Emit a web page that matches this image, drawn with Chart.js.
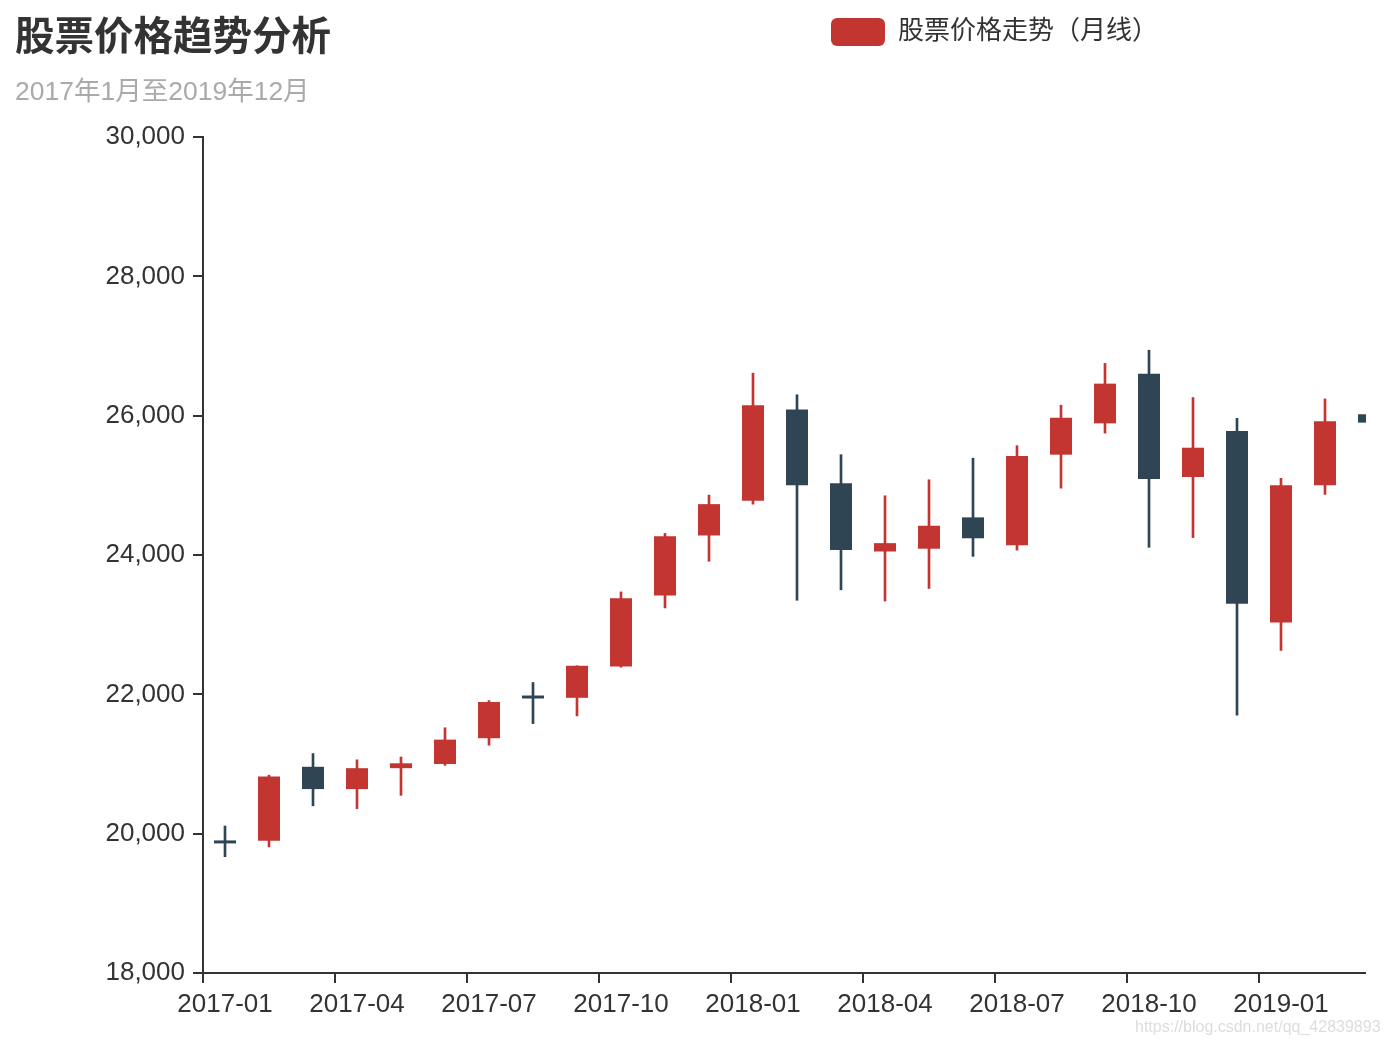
<!DOCTYPE html>
<html>
<head>
<meta charset="utf-8">
<script src="https://cdn.jsdelivr.net/npm/chart.js@4.4.1/dist/chart.umd.min.js"></script>
<style>
    body { margin: 0; background: #fff; font-family: 'Liberation Sans', 'Noto Sans CJK SC', sans-serif; }
    .title { position: absolute; left: 15px; top: 16px; font-size: 39.5px; line-height: 40px; font-weight: bold; color: #333; }
    .subtitle { position: absolute; left: 15px; top: 78px; font-size: 26.5px; line-height: 26px; color: #aaa; }
    .wrap { position: absolute; left: 0; top: 0; width: 1366px; height: 1046px; overflow: hidden; }
    .mark { position: absolute; left: 1135px; top: 1018px; font-size: 16px; color: #ddd; }
</style>
</head>
<body>
<div class="wrap"><canvas id="klineChart" width="1976" height="1046"></canvas></div>
<div class="title">股票价格趋势分析</div>
<div class="subtitle">2017年1月至2019年12月</div>
<div class="mark">https://blog.csdn.net/qq_42839893</div>
<script>
// Datos del gráfico (meses y precios OHLC)
const months = [
    '2017-01', '2017-02', '2017-03', '2017-04', '2017-05', '2017-06',
    '2017-07', '2017-08', '2017-09', '2017-10', '2017-11', '2017-12',
    '2018-01', '2018-02', '2018-03', '2018-04', '2018-05', '2018-06',
    '2018-07', '2018-08', '2018-09', '2018-10', '2018-11', '2018-12',
    '2019-01', '2019-02', '2019-03', '2019-04', '2019-05', '2019-06',
    '2019-07', '2019-08', '2019-09', '2019-10', '2019-11', '2019-12'
];
const openPrices = [19870, 19900, 20960, 20640, 20940, 21000, 21370, 21950, 21950, 22400, 23420, 24280,
    24780, 26090, 25030, 24050, 24090, 24540, 24140, 25440, 25890, 26600, 25120, 25780,
    23030, 25000, 26020];
const closePrices = [19860, 20820, 20640, 20940, 21010, 21350, 21890, 21940, 22410, 23380, 24270, 24730,
    26150, 25000, 24070, 24170, 24420, 24240, 25420, 25970, 26460, 25090, 25540, 23300,
    25000, 25920, 25900];
const lowPrices = [19670, 19810, 20400, 20360, 20550, 20980, 21270, 21580, 21690, 22390, 23240, 23910,
    24730, 23350, 23500, 23340, 23520, 23980, 24070, 24960, 25750, 24110, 24250, 21700,
    22630, 24870, 25200];
const highPrices = [20110, 20840, 21150, 21060, 21100, 21520, 21910, 22170, 22410, 23470, 24310, 24860,
    26610, 26300, 25440, 24850, 25080, 25390, 25570, 26150, 26750, 26940, 26260, 25960,
    25100, 26240, 26150];
const yTicks = { min: 18000, max: 30000, step: 2000 };
const seriesName = '股票价格走势（月线）';

const upColor = '#c23531';
const downColor = '#2f4554';
const fontFamily = "'Liberation Sans', 'Noto Sans CJK SC', sans-serif";

document.addEventListener('DOMContentLoaded', function() {
    initializeChart();
});

function initializeChart() {
    const ctx = document.getElementById('klineChart');

    // Cuerpo de la vela: [apertura, cierre]; mecha: [mínimo, máximo]
    const bodies = openPrices.map((o, i) => [o, closePrices[i]]);
    const wicks = lowPrices.map((l, i) => [l, highPrices[i]]);
    const colors = openPrices.map((o, i) => closePrices[i] > o ? upColor : downColor);

    // Leyenda: alto fijo (el título va en HTML) y centrada en todo el lienzo
    const legendSpacer = {
        id: 'legendSpacer',
        beforeInit(chart) {
            const fit = chart.legend.fit;
            chart.legend.fit = function() {
                fit.call(this);
                this.height = 137;
            };
        },
        afterLayout(chart) {
            chart.legend.left = 12;
            chart.legend.right = chart.width + 1;
            chart.legend.width = chart.width - 11;
        }
    };

    new Chart(ctx, {
        type: 'bar',
        data: {
            labels: months,
            datasets: [{
                label: seriesName,
                data: bodies,
                backgroundColor: colors,
                borderWidth: 0,
                borderSkipped: false,
                grouped: false,
                categoryPercentage: 1,
                barPercentage: 0.5,
                minBarLength: 3
            }, {
                label: 'mecha',
                data: wicks,
                backgroundColor: colors,
                borderWidth: 0,
                borderSkipped: false,
                grouped: false,
                barThickness: 2
            }]
        },
        options: {
            responsive: false,
            animation: false,
            layout: { padding: { left: 0, right: 189, top: 0, bottom: 0 } },
            plugins: {
                tooltip: { enabled: false },
                legend: {
                    position: 'top',
                    align: 'center',
                    labels: {
                        boxWidth: 54,
                        boxHeight: 28,
                        padding: 18,
                        color: '#333',
                        font: { family: fontFamily, size: 26 },
                        useBorderRadius: true,
                        borderRadius: 6,
                        generateLabels: function() {
                            return [{
                                text: seriesName,
                                fillStyle: upColor,
                                strokeStyle: upColor,
                                lineWidth: 0,
                                borderRadius: 6,
                                datasetIndex: 0,
                                hidden: false,
                                fontColor: '#333'
                            }];
                        }
                    }
                }
            },
            scales: {
                x: {
                    type: 'category',
                    offset: true,
                    afterFit: function(scale) { scale.height = 73; },
                    border: { display: true, color: '#333', width: 2 },
                    grid: {
                        offset: true,
                        drawOnChartArea: false,
                        drawTicks: true,
                        tickLength: 10,
                        lineWidth: 2,
                        color: c => c.index % 3 === 0 ? '#333' : 'rgba(0,0,0,0)',
                        tickColor: c => c.index % 3 === 0 ? '#333' : 'rgba(0,0,0,0)'
                    },
                    ticks: {
                        autoSkip: false,
                        maxRotation: 0,
                        padding: 6,
                        color: '#333',
                        font: { family: fontFamily, size: 26 },
                        callback: function(value, index) {
                            return index % 3 === 0 ? this.getLabelForValue(value) : '';
                        }
                    }
                },
                y: {
                    min: yTicks.min,
                    max: yTicks.max,
                    afterFit: function(scale) { scale.width = 203; },
                    border: { display: true, color: '#333', width: 2 },
                    grid: {
                        drawOnChartArea: false,
                        drawTicks: true,
                        tickLength: 10,
                        lineWidth: 2,
                        color: '#333'
                    },
                    ticks: {
                        stepSize: yTicks.step,
                        padding: 8,
                        color: '#333',
                        font: { family: fontFamily, size: 26 },
                        callback: v => v.toLocaleString('en-US')
                    }
                }
            }
        },
        plugins: [legendSpacer]
    });
}
</script>
</body>
</html>
